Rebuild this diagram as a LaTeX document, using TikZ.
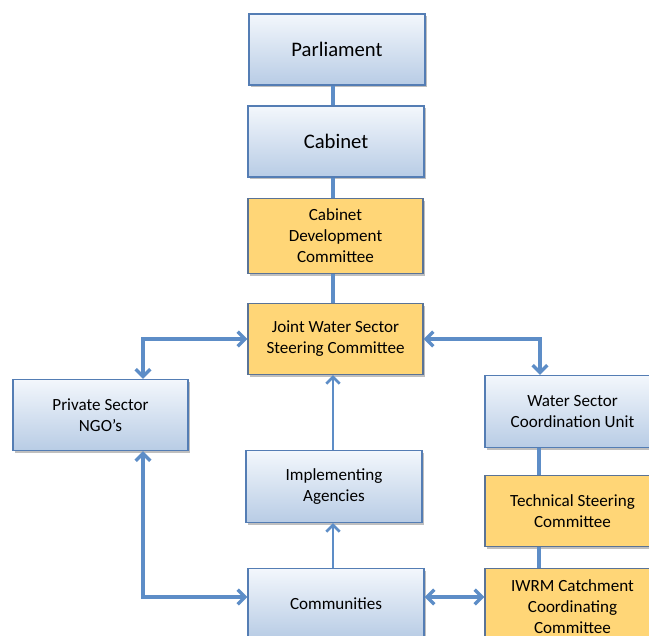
\documentclass[tikz,border=0pt]{standalone}
\usepackage{fontspec}
\setmainfont{Carlito}
\usetikzlibrary{arrows.meta,shadows}
\definecolor{bborder}{RGB}{84,125,180}
\definecolor{btop}{RGB}{243,247,252}
\definecolor{bbot}{RGB}{184,204,229}
\definecolor{yfill}{RGB}{255,214,119}
\definecolor{yborder}{RGB}{90,115,150}
\definecolor{conn}{RGB}{93,141,199}
\tikzset{
  boxbase/.style={rectangle, align=center, inner sep=2pt, line width=0.8pt,
    font=\fontsize{12.8}{15.8}\selectfont,
    drop shadow={shadow xshift=1.2pt, shadow yshift=-1.5pt, opacity=0.25, fill=black}},
  bluebox/.style={boxbase, draw=bborder, top color=btop, bottom color=bbot},
  yellowbox/.style={boxbase, draw=yborder, fill=yfill},
  bigtext/.style={font=\fontsize{15.5}{18}\selectfont},
  link/.style={draw=conn, line width=3.2pt},
  dlink/.style={draw=conn, line width=2.6pt, {Straight Barb[length=5.5pt,width=11pt]}-{Straight Barb[length=5.5pt,width=11pt]}},
  slink/.style={draw=conn, line width=2pt, -{Straight Barb[length=5pt,width=10pt]}},
}
\begin{document}
\begin{tikzpicture}[x=0.75pt,y=-0.75pt]
\useasboundingbox (0,0) rectangle (649,635);
\begin{scope}
\clip (0,0) rectangle (649,635);
\coordinate (c1) at (143,339);
\coordinate (c2) at (540,339);
\coordinate (c3) at (143,597);
\node[bluebox, bigtext, minimum width=132pt, minimum height=53.25pt] (parl) at (337,49.5) {Parliament};
\node[bluebox, bigtext, minimum width=132pt, minimum height=53.25pt] (cab) at (336,141.5) {Cabinet};
\node[yellowbox, minimum width=131.25pt, minimum height=56.25pt] (cdc) at (335.5,236) {Cabinet\\Development\\Committee};
\node[yellowbox, minimum width=131.25pt, minimum height=53.25pt] (jw) at (335.5,339) {Joint Water Sector\\Steering Committee};
\node[bluebox, minimum width=131.25pt, minimum height=53.25pt] (psn) at (100.5,415) {Private Sector\\NGO’s};
\node[bluebox, minimum width=131.25pt, minimum height=54pt] (wscu) at (572.5,411.5) {Water Sector\\Coordination Unit};
\node[bluebox, minimum width=132pt, minimum height=54pt] (ia) at (334,486.5) {Implementing\\Agencies};
\node[yellowbox, minimum width=131.25pt, minimum height=53.25pt] (tsc) at (572.5,511) {Technical Steering\\Committee};
\node[bluebox, minimum width=132pt, minimum height=52.5pt] (comm) at (336,603.5) {Communities};
\node[yellowbox, minimum width=131.25pt, minimum height=57pt] (iwrm) at (572.5,606.5) {IWRM Catchment\\Coordinating\\Committee};
% straight connections
\draw[link] (parl.south -| 333,0) -- (cab.north -| 333,0);
\draw[link] (cab.south -| 333,0) -- (cdc.north -| 333,0);
\draw[link] (cdc.south -| 333,0) -- (jw.north -| 333,0);
\draw[link] (wscu.south -| 539,0) -- (tsc.north -| 539,0);
\draw[link] (tsc.south -| 539,0) -- (iwrm.north -| 539,0);
% arrows
\draw[dlink] (jw.west |- c1) -- (c1) -- (psn.north -| c1);
\draw[dlink] (jw.east |- c2) -- (c2) -- (wscu.north -| c2);
\draw[dlink] (psn.south -| c3) -- (c3) -- (comm.west |- c3);
\draw[dlink] (comm.east |- 0,597) -- (iwrm.west |- 0,597);
\draw[slink] (ia.north -| 333,0) -- (jw.south -| 333,0);
\draw[slink] (comm.north -| 333,0) -- (ia.south -| 333,0);
\end{scope}
\end{tikzpicture}
\end{document}
